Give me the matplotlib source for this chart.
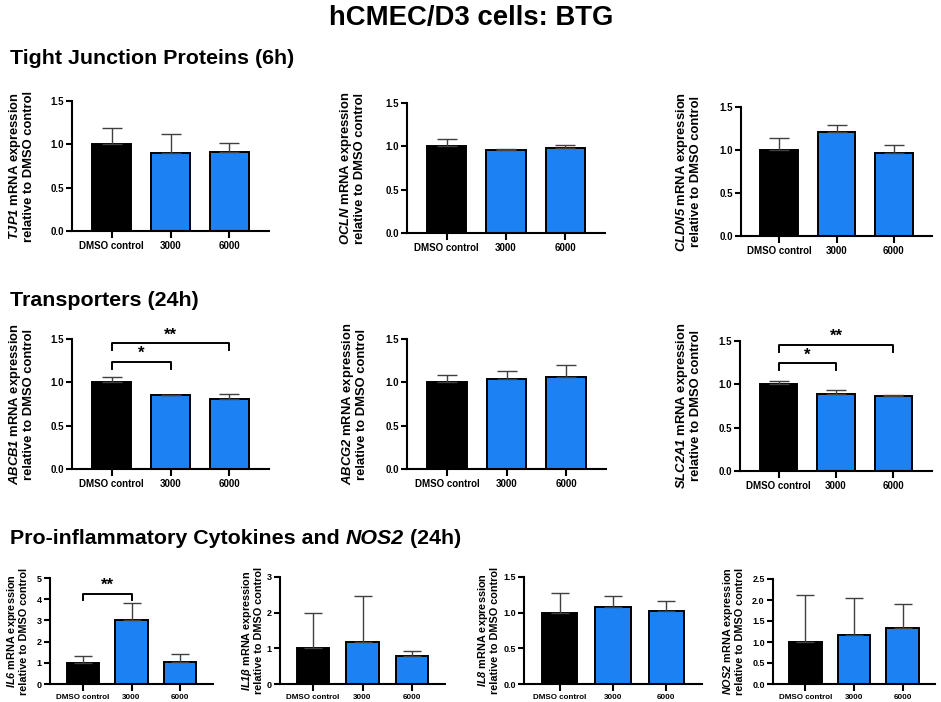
import matplotlib
matplotlib.use("Agg")
import matplotlib.pyplot as plt

plt.rcParams["font.family"] = ["Liberation Sans", "DejaVu Sans"]
plt.rcParams["font.weight"] = "bold"
plt.rcParams["mathtext.fontset"] = "custom"
plt.rcParams["mathtext.rm"] = "Liberation Sans:bold"
plt.rcParams["mathtext.it"] = "Liberation Sans:italic:bold"
plt.rcParams["mathtext.bf"] = "Liberation Sans:bold"
plt.rcParams["mathtext.bfit"] = "Liberation Sans:italic:bold"

# ---------------- data ----------------
groups = ["DMSO control", "3000", "6000"]

tjp1_mean = [1.00, 0.90, 0.91]
tjp1_err = [0.19, 0.22, 0.10]
ocln_mean = [1.00, 0.96, 0.98]
ocln_err = [0.09, 0.015, 0.04]
cldn5_mean = [1.00, 1.21, 0.96]
cldn5_err = [0.14, 0.08, 0.10]

abcb1_mean = [1.00, 0.85, 0.81]
abcb1_err = [0.065, 0.005, 0.05]
abcg2_mean = [1.00, 1.04, 1.06]
abcg2_err = [0.09, 0.09, 0.14]
slc2a1_mean = [1.00, 0.89, 0.87]
slc2a1_err = [0.04, 0.05, 0.01]

il6_mean = [1.00, 3.00, 1.03]
il6_err = [0.32, 0.82, 0.37]
il1b_mean = [1.00, 1.17, 0.78]
il1b_err = [1.00, 1.29, 0.14]
il8_mean = [1.00, 1.08, 1.03]
il8_err = [0.28, 0.15, 0.13]
nos2_mean = [1.00, 1.17, 1.33]
nos2_err = [1.13, 0.87, 0.58]

genes = ["TJP1", "OCLN", "CLDN5", "ABCB1", "ABCG2", "SLC2A1",
         "IL6", "IL1\\beta", "IL8", "NOS2"]
means = [tjp1_mean, ocln_mean, cldn5_mean, abcb1_mean, abcg2_mean, slc2a1_mean,
         il6_mean, il1b_mean, il8_mean, nos2_mean]
errs = [tjp1_err, ocln_err, cldn5_err, abcb1_err, abcg2_err, slc2a1_err,
        il6_err, il1b_err, il8_err, nos2_err]
ymax = [1.5, 1.5, 1.5, 1.5, 1.5, 1.5, 5, 3, 1.5, 2.5]
ystep = [0.5, 0.5, 0.5, 0.5, 0.5, 0.5, 1, 1, 0.5, 0.5]

# significance: (panel index, group a, group b, bracket height, label)
sig = [(3, 0, 1, 1.24, "*"), (3, 0, 2, 1.45, "**"),
       (5, 0, 1, 1.245, "*"), (5, 0, 2, 1.455, "**"),
       (6, 0, 1, 4.25, "**")]

title = "hCMEC/D3 cells: BTG"
sections = ["Tight Junction Proteins (6h)", "Transporters (24h)"]
section3 = ["Pro-inflammatory Cytokines and ", "NOS2", " (24h)"]

# ---------------- layout (pixels) ----------------
W, H = 941, 702
boxes = [(72, 101, 269, 231), (407, 103, 605, 233), (741, 107, 932, 236),
         (72, 339, 269, 469), (407, 339, 606, 469), (740, 341, 932, 471),
         (50, 578, 213, 684), (280, 577, 445, 684), (524, 577, 702, 684),
         (773, 579, 935, 684)]
label_off = [-51, -55, -53, -51, -53, -52, -33, -28, -36, -40]

colors = ["black", "#1c82f4", "#1c82f4"]

fig = plt.figure(figsize=(W / 100, H / 100), dpi=100)

for i, (l, t, r, b) in enumerate(boxes):
    ax = fig.add_axes([l / W, 1 - b / H, (r - l) / W, (b - t) / H])
    small = i >= 6
    x = range(len(groups))
    ax.bar(x, means[i], width=0.66, color=colors, edgecolor="black",
           linewidth=1.4, zorder=2)
    ax.errorbar(x, means[i], yerr=[[0] * 3, errs[i]], fmt="none",
                ecolor="#404040", elinewidth=1.0,
                capsize=6.5 if small else 7.5, capthick=1.0, zorder=3)
    ax.set_xlim(-0.67, 2.67)
    ax.set_ylim(0, ymax[i])
    n = int(round(ymax[i] / ystep[i]))
    ticks = [k * ystep[i] for k in range(n + 1)]
    ax.set_yticks(ticks)
    if ystep[i] < 1:
        ax.set_yticklabels([f"{v:.1f}" for v in ticks])
    else:
        ax.set_yticklabels([f"{v:.0f}" for v in ticks])
    ax.set_xticks(list(x))
    ax.set_xticklabels(groups)
    for s in ["top", "right"]:
        ax.spines[s].set_visible(False)
    for s in ["left", "bottom"]:
        ax.spines[s].set_linewidth(1.5)
    ax.tick_params(axis="y", length=4, width=1.5, pad=2,
                   labelsize=6.5 if small else 7)
    ax.tick_params(axis="x", length=5, width=1.5, pad=2,
                   labelsize=5.8 if small else 7)
    for lab in ax.get_xticklabels() + ax.get_yticklabels():
        lab.set_fontweight("bold")
    ax.set_ylabel(r"$\mathbfit{" + genes[i] + r"}$ mRNA expression" + "\nrelative to DMSO control",
                  fontsize=7.8 if small else 9.4, fontweight="bold",
                  va="center", linespacing=1.05)
    ax.yaxis.set_label_coords(label_off[i] / (r - l), 0.5)

    for (p, a, bb, h, txt) in sig:
        if p != i:
            continue
        drop = 0.055 * ymax[i]
        ax.plot([a, a, bb, bb], [h - drop, h, h, h - drop], color="black",
                lw=1.4, zorder=4, clip_on=False)
        ax.annotate(txt, ((a + bb) / 2, h), xytext=(0, 0.5),
                    textcoords="offset points", ha="center", va="bottom",
                    fontsize=12, fontweight="bold", annotation_clip=False)

fig.text(471 / W, 1 - 18 / H, title, ha="center", va="center",
         fontsize=19.8, fontweight="bold")
fig.text(10 / W, 1 - 59 / H, sections[0], ha="left", va="center",
         fontsize=15.4, fontweight="bold")
fig.text(10 / W, 1 - 300 / H, sections[1], ha="left", va="center",
         fontsize=15.4, fontweight="bold")

renderer = fig.canvas.get_renderer()
xpos = 10
styles = ["normal", "italic", "normal"]
for part, st in zip(section3, styles):
    t = fig.text(xpos / W, 1 - 539 / H, part, ha="left", va="center",
                 fontsize=15.4, fontweight="bold", style=st)
    bb = t.get_window_extent(renderer)
    xpos += bb.width

fig.savefig("out.png", dpi=100)
